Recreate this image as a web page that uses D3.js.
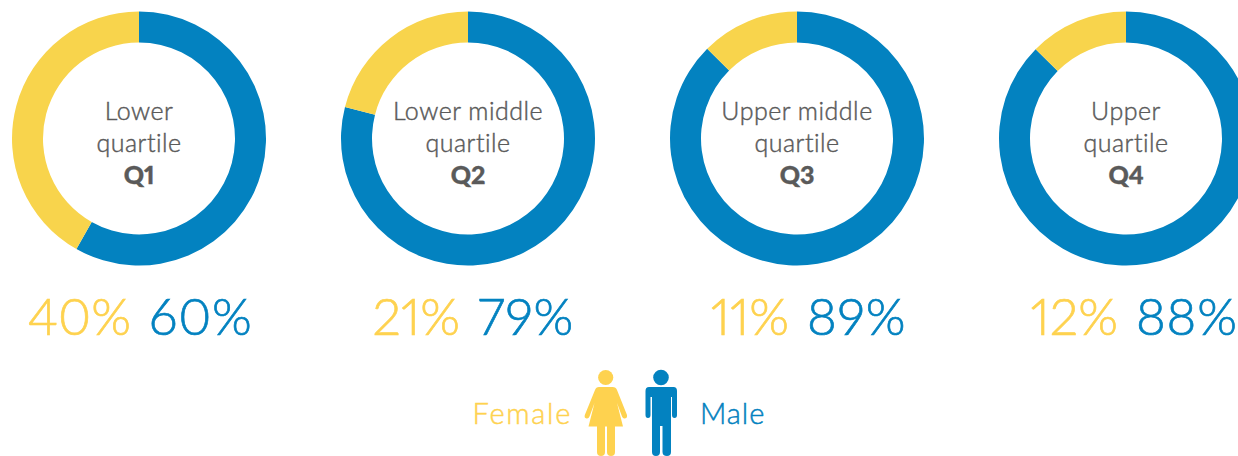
<!DOCTYPE html>
<html>
<head>
<meta charset="utf-8">
<script src="https://cdn.jsdelivr.net/npm/d3@7"></script>
<style>
  html, body { margin: 0; padding: 0; background: #fff; overflow: hidden; }
  svg { display: block; font-family: Lato, "Open Sans", sans-serif; font-variant-ligatures: none; font-variant-numeric: proportional-nums; }
</style>
</head>
<body>
<svg id="chart" width="1238" height="456"></svg>
<script>
// Chart values
const quartiles = ["Q1", "Q2", "Q3", "Q4"];
const firstLines = ["Lower", "Lower middle", "Upper middle", "Upper"];
const femaleLabels = [40, 21, 11, 12];
const maleLabels = [60, 79, 89, 88];
// Shares as the rings are actually drawn, they differ a bit from the printed numbers
const femaleArcs = [41.8, 21, 12.5, 12.6];
const maleArcs = [58.2, 79, 87.5, 87.4];

const colors = { female: "#f8d44c", femaleText: "#fed24f", male: "#0382c0", text: "#5a5a5a" };

const svg = d3.select("#chart");

// Donut positions
const x = d3.scalePoint()
    .domain(quartiles)
    .range([139, 1126]);
const cy = 138.5;

const arc = d3.arc().innerRadius(96).outerRadius(127);

// Female share ends at 12 o'clock, so the male slice goes first
const pie = d3.pie().sort(null).value(d => d.value);

quartiles.forEach(function(q, i) {
    const g = svg.append("g")
        .attr("transform", "translate(" + x(q) + "," + cy + ")");

    const slices = [
        { key: "male", value: maleArcs[i] },
        { key: "female", value: femaleArcs[i] }
    ];

    g.selectAll("path")
        .data(pie(slices))
        .enter().append("path")
        .attr("d", arc)
        .attr("fill", d => colors[d.data.key]);

    // Centre label
    [firstLines[i], "quartile"].forEach(function(line, k) {
        g.append("text")
            .attr("y", -19 + k * 32)
            .attr("text-anchor", "middle")
            .attr("fill", colors.text)
            .attr("stroke", colors.text)
            .attr("stroke-width", 0.45)
            .style("font-size", "25px")
            .style("font-weight", 300)
            .style("letter-spacing", "0.5px")
            .text(line);
    });

    g.append("text")
        .attr("y", 45)
        .attr("text-anchor", "middle")
        .attr("fill", colors.text)
        .attr("stroke", colors.text)
        .attr("stroke-width", 0.4)
        .style("font-size", "25px")
        .style("font-weight", 900)
        .text(q);

    // Percentages, the gap between the two numbers sits around the centre
    svg.append("text")
        .attr("x", x(q) - 8)
        .attr("y", 335)
        .attr("text-anchor", "end")
        .attr("fill", colors.femaleText)
        .attr("stroke", colors.femaleText)
        .attr("stroke-width", 0.7)
        .style("font-size", "51px")
        .style("font-weight", 300)
        .text(femaleLabels[i] + "%");

    svg.append("text")
        .attr("x", x(q) + 10)
        .attr("y", 335)
        .attr("fill", colors.male)
        .attr("stroke", colors.male)
        .attr("stroke-width", 0.7)
        .style("font-size", "51px")
        .style("font-weight", 300)
        .style("letter-spacing", "0.8px")
        .text(maleLabels[i] + "%");
});

// Legend
svg.append("text")
    .attr("x", 572)
    .attr("y", 424)
    .attr("text-anchor", "end")
    .attr("fill", colors.femaleText)
    .attr("stroke", colors.femaleText)
    .attr("stroke-width", 0.5)
    .style("font-size", "29px")
    .style("font-weight", 300)
    .style("letter-spacing", "1.7px")
    .text("Female");

svg.append("text")
    .attr("x", 700)
    .attr("y", 424)
    .attr("fill", colors.male)
    .attr("stroke", colors.male)
    .attr("stroke-width", 0.5)
    .style("font-size", "29px")
    .style("font-weight", 300)
    .style("letter-spacing", "1px")
    .text("Male");

// Female icon
const female = svg.append("g").attr("fill", colors.femaleText);
female.append("circle").attr("cx", 605.7).attr("cy", 377.5).attr("r", 7.6);
female.append("path")
    .attr("d", "M599 387 H612.5 Q616 387 617 390 L627 415 Q627.5 418 625 418.5 Q623 419 622 416.5 L617 403 L623 426.5 H588.5 L594.5 403 L589.5 416.5 Q588.5 419 586.5 418.5 Q584 418 584.8 415 L595 390 Q596 387 599 387 Z");
female.append("path")
    .attr("d", "M597 426 H605 V452 Q605 456 601 456 Q597 456 597 452 Z");
female.append("path")
    .attr("d", "M607 426 H615 V452 Q615 456 611 456 Q607 456 607 452 Z");

// Male icon
const male = svg.append("g").attr("fill", colors.male);
male.append("circle").attr("cx", 661).attr("cy", 377.5).attr("r", 7.8);
male.append("path")
    .attr("d", "M649 387 H673.5 Q677 387 677 391 V415 Q677 418 674.5 418 Q672 418 672 415 V397 H671 V452 Q671 456 667 456 Q662.5 456 662.5 452 V426 H660 V452 Q660 456 656 456 Q652 456 652 452 V397 H650.5 V415 Q650.5 418 648 418 Q645.5 418 645.5 415 V391 Q645.5 387 649 387 Z");
</script>
</body>
</html>
